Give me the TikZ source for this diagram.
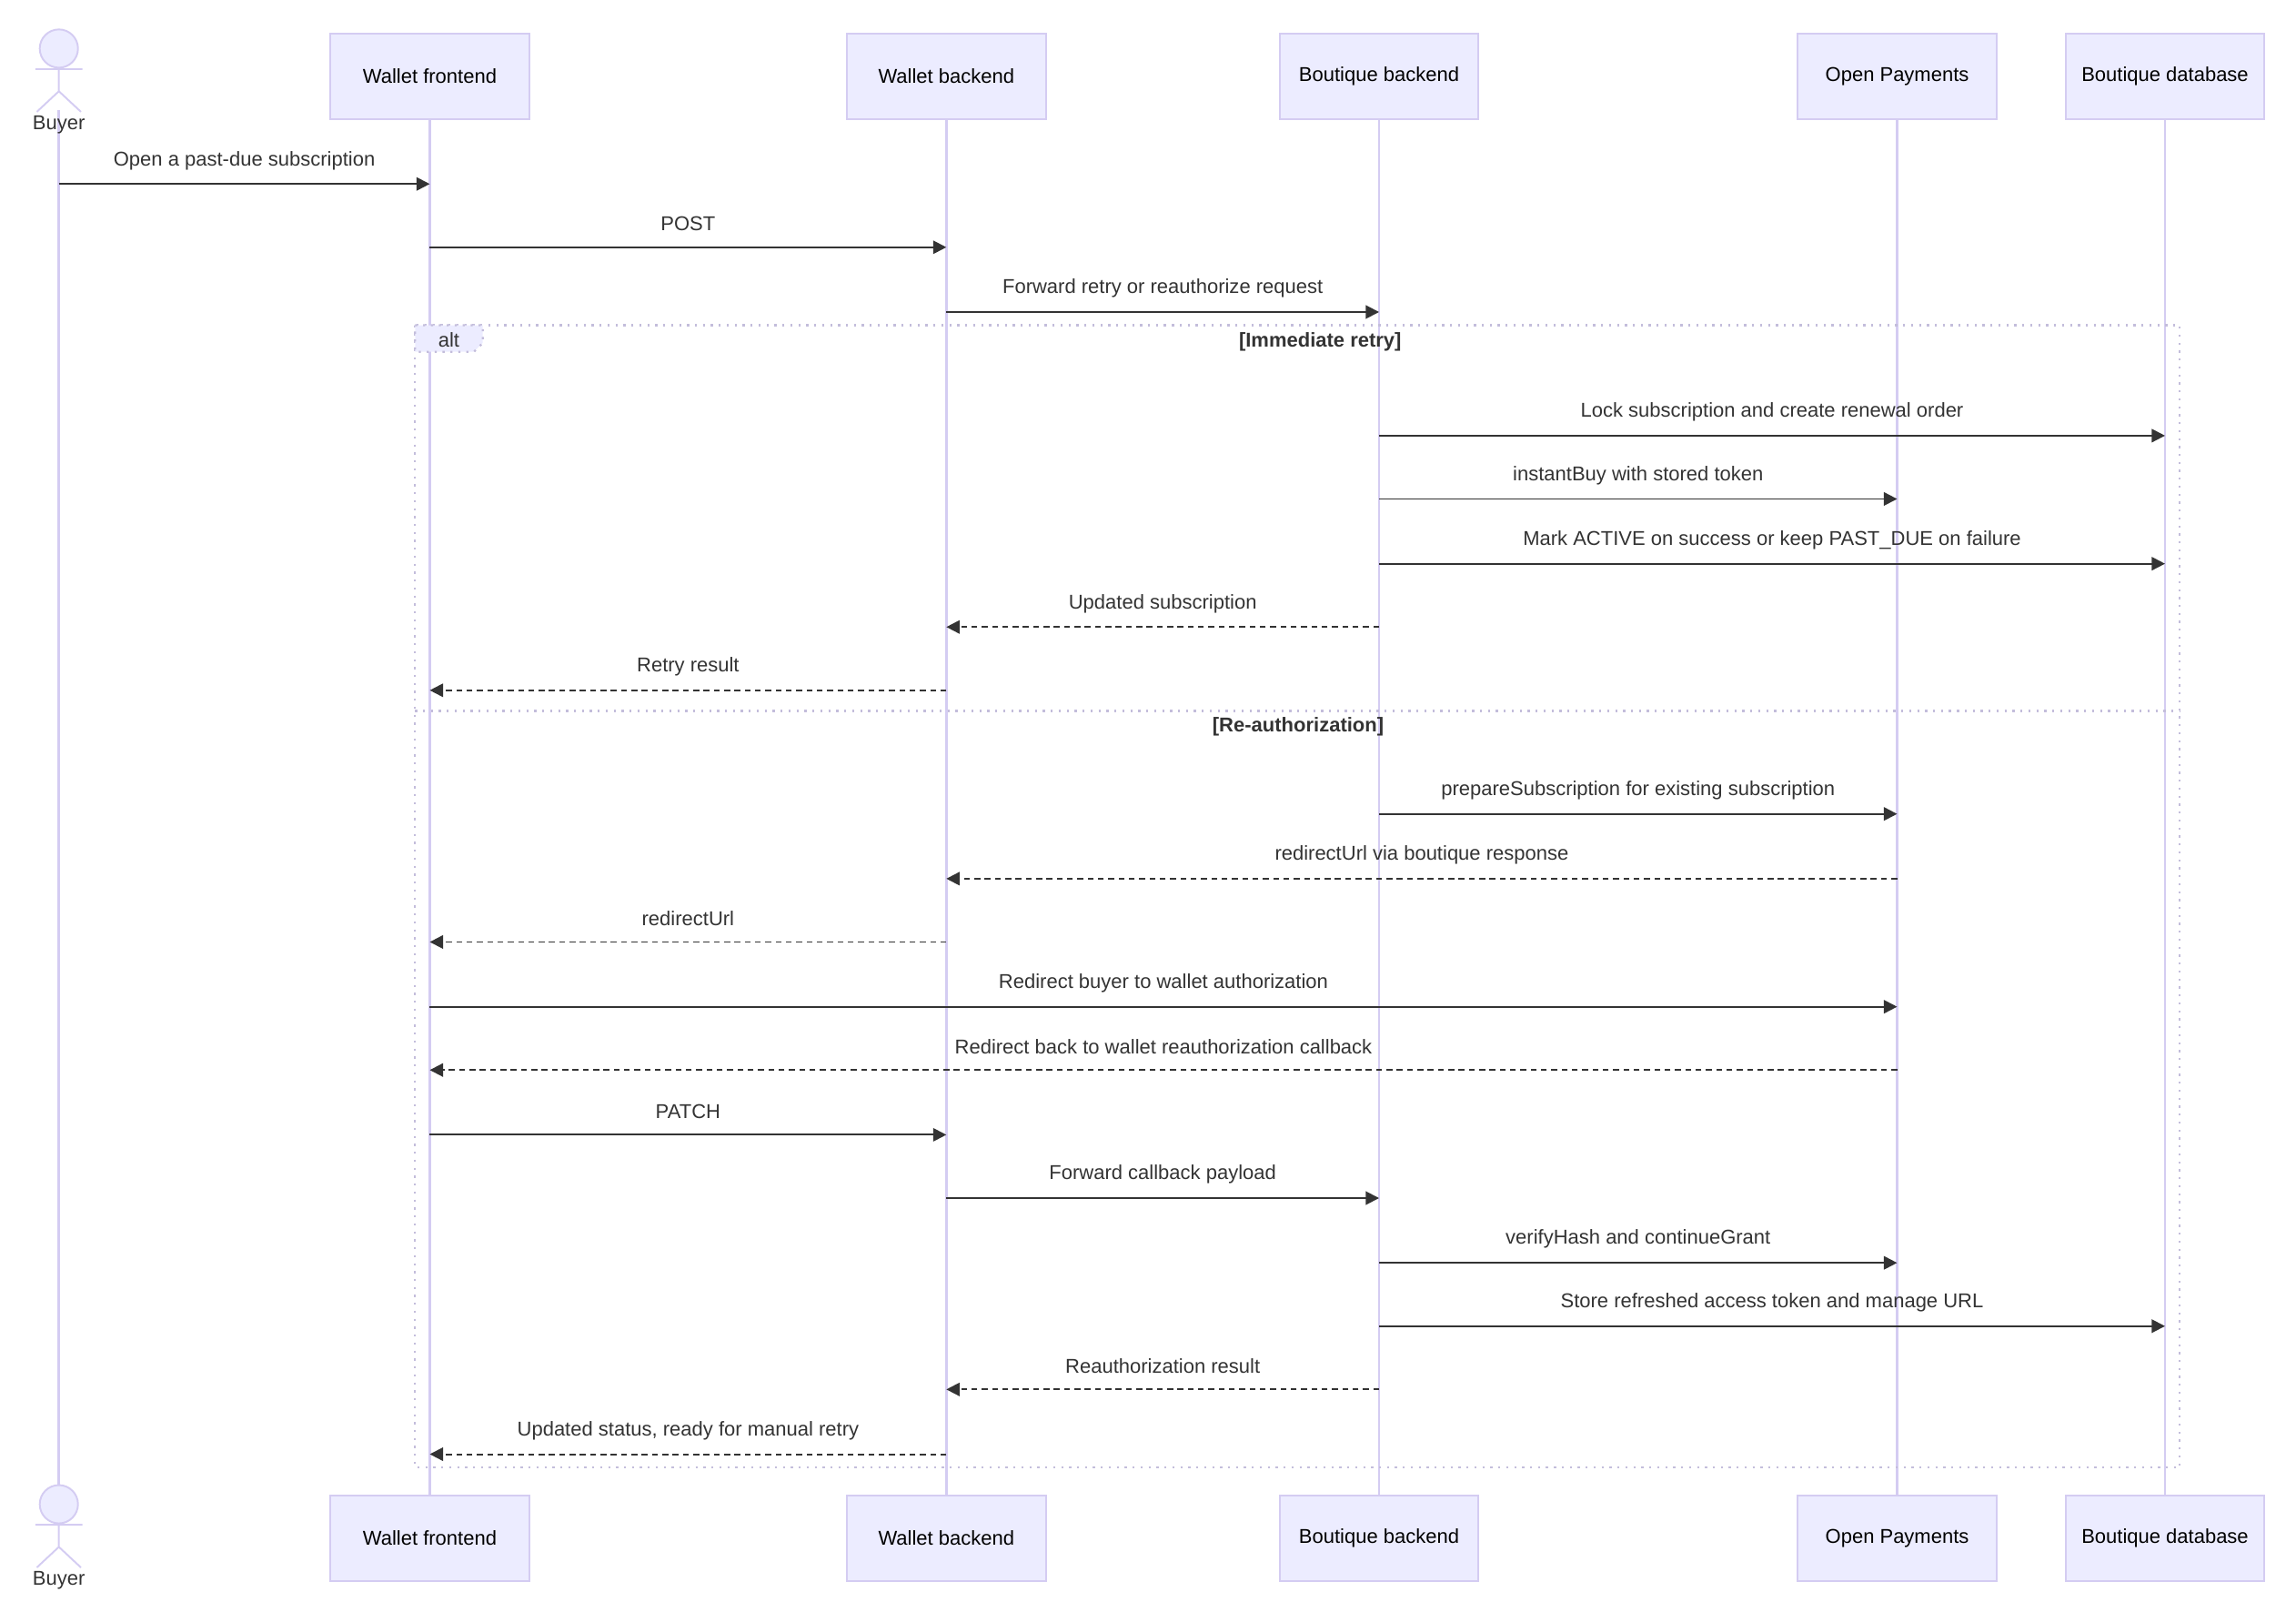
\documentclass[tikz,border=0pt]{standalone}
\usepackage{fontspec}
\setmainfont{Liberation Sans}
\usetikzlibrary{arrows.meta,calc}
\definecolor{actfill}{HTML}{ECECFF}
\definecolor{actline}{HTML}{D4CCF2}
\definecolor{msgline}{HTML}{333333}
\tikzset{
  actor/.style={draw=actline,fill=actfill,line width=0.6pt,minimum width=67.5pt,minimum height=29pt,inner sep=0pt},
  life/.style={draw=actline,line width=0.9pt},
  msg/.style={draw=msgline,line width=0.6pt,-{Triangle[length=4.5pt,width=4.5pt]}},
  reply/.style={msg,dash pattern=on 2pt off 1.5pt},
  lbl/.style={inner sep=0pt,text=msgline},
  frame/.style={draw=actline!80!gray,dotted,line width=0.7pt}
}
\begin{document}
\begin{tikzpicture}[x=0.5pt,y=-0.5pt,font=\fontsize{6.8}{8}\selectfont]
\useasboundingbox (0,0) rectangle (1560,1095);
% participants, top and bottom
\foreach \n/\x/\t in {wf/292/Wallet frontend,wb/643/Wallet backend,bb/937/Boutique backend,op/1289/Open Payments,db/1471/Boutique database}{
  \node[actor] (\n top) at (\x,52) {\t};
  \node[actor] (\n bot) at (\x,1045) {\t};
  \draw[life] (\n top) -- (\n bot);
}
\coordinate (bu top) at (40,75);
\coordinate (bu bot) at (40,1011);
\draw[life] (bu top) -- (bu bot);
% buyer actor
\foreach \y/\s in {0/top,989/bot}{
  \begin{scope}[yshift=-\y*0.5pt]
  \node[circle,draw=actline,fill=actfill,line width=0.6pt,minimum size=13pt,inner sep=0pt] (bu head \s) at (40,33) {};
  \draw[actline,line width=0.6pt] (bu head \s.south) -- (40,62) (24,47) -- (56,47) (40,62) -- (25,76) (40,62) -- (55,76);
  \node[lbl] (bu lbl \s) at (40,85) {Buyer};
  \end{scope}
}
% alt frame
\draw[frame] (282,221) rectangle (1481,997);
\draw[frame] (282,483) -- (1481,483);
\draw[frame,fill=actfill] (282,221) -- (328,221) -- (328,233) -- (322,239) -- (282,239) -- cycle;
\node[lbl] (alt) at (305,231) {alt};
\node[lbl,font=\fontsize{6.8}{8}\selectfont\bfseries] (g1) at (897,232) {[Immediate retry]};
\node[lbl,font=\fontsize{6.8}{8}\selectfont\bfseries] (g2) at (882,494) {[Re-authorization]};
% messages
\foreach \i/\a/\b/\y/\s/\t in {
  1/40/292/125/msg/Open a past-due subscription,
  2/292/643/168/msg/POST /subscriptions/:id/retry or /reauthorize,
  3/643/937/212/msg/Forward retry or reauthorize request,
  4/937/1471/296/msg/Lock subscription and create renewal order,
  5/937/1289/339/msg/instantBuy with stored token,
  6/937/1471/383/msg/Mark ACTIVE on success or keep PAST\_DUE on failure,
  7/937/643/426/reply/Updated subscription,
  8/643/292/469/reply/Retry result,
  9/937/1289/553/msg/prepareSubscription for existing subscription,
  10/1289/643/597/reply/redirectUrl via boutique response,
  11/643/292/640/reply/redirectUrl,
  12/292/1289/684/msg/Redirect buyer to wallet authorization,
  13/1289/292/727/reply/Redirect back to wallet reauthorization callback,
  14/292/643/771/msg/PATCH /subscriptions/:id/reauthorize,
  15/643/937/814/msg/Forward callback payload,
  16/937/1289/858/msg/verifyHash and continueGrant,
  17/937/1471/901/msg/Store refreshed access token and manage URL,
  18/937/643/944/reply/Reauthorization result,
  19/643/292/988/reply/{Updated status, ready for manual retry}}{
  \coordinate (m\i a) at (\a,\y);
  \coordinate (m\i b) at (\b,\y);
  \draw[\s] (m\i a) -- (m\i b);
  \node[lbl] (t\i) at ($(m\i a)!0.5!(m\i b)+(0,-16)$) {\t};
}
\end{tikzpicture}
\end{document}
